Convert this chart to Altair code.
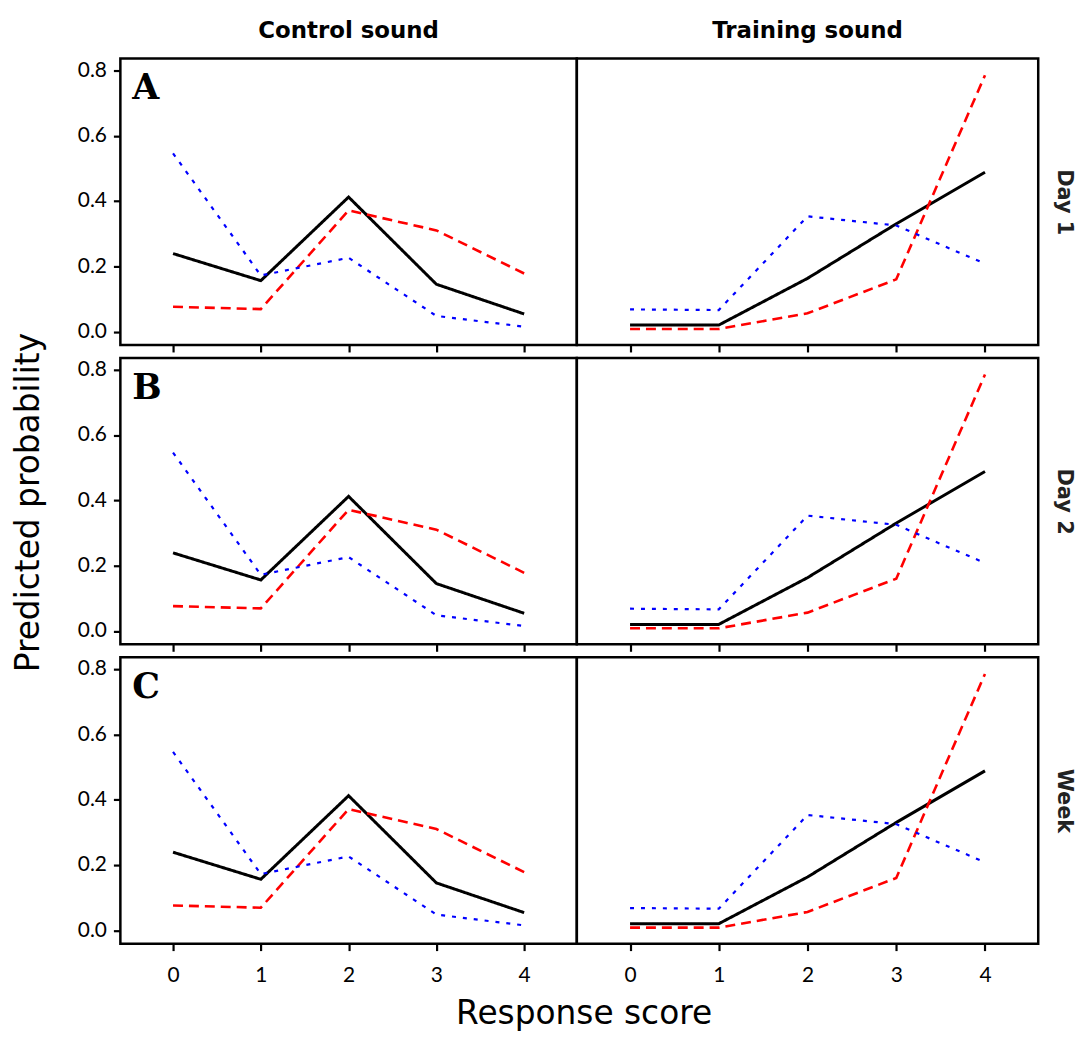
import altair as alt
import pandas as pd

scores = [0, 1, 2, 3, 4]
control_solid = [0.239, 0.156, 0.412, 0.145, 0.054]
control_dashed = [0.076, 0.069, 0.371, 0.310, 0.178]
control_dotted = [0.546, 0.172, 0.226, 0.048, 0.015]
training_solid = [0.020, 0.020, 0.163, 0.330, 0.488]
training_dashed = [0.008, 0.008, 0.056, 0.160, 0.785]
training_dotted = [0.068, 0.066, 0.353, 0.325, 0.208]
sounds = ["Control sound", "Training sound"]
periods = ["Day 1", "Day 2", "Week"]
letters = ["A", "B", "C"]
y_ticks = [0.0, 0.2, 0.4, 0.6, 0.8]
series = ["solid", "dashed", "dotted"]

values = {
    "Control sound": [control_solid, control_dashed, control_dotted],
    "Training sound": [training_solid, training_dashed, training_dotted],
}

TICK_FONT = "Lato"
TITLE_FONT = "DejaVu Sans"
WIDTHS = [459, 464]
H = 288
XDOM = [-0.6, 4.6]
YDOM = [-0.041, 0.836]

color_scale = alt.Scale(domain=series, range=["black", "#ff0000", "#0000ff"])
dash_scale = alt.Scale(domain=series, range=[[1, 0], [10, 6], [4, 7]])
width_scale = alt.Scale(domain=series, range=[3.0, 2.2, 4.0])


def panel(ri, ci):
    sound = sounds[ci]
    rows = []
    for name, vals in zip(series, values[sound]):
        for s, v in zip(scores, vals):
            rows.append({"series": name, "score": s, "prob": v})
    df = pd.DataFrame(rows)
    xaxis = alt.Axis(values=scores, labels=(ri == 2), ticks=True, tickSize=7, tickWidth=2.2,
                     tickColor="black", domain=False, grid=False, title=None,
                     labelFont=TICK_FONT, labelFontSize=21, labelColor="black",
                     labelPadding=14)
    if ci == 0:
        yaxis = alt.Axis(values=y_ticks, format=".1f", tickSize=7, tickWidth=2.2, tickColor="black",
                         domain=False, grid=False, labelFont=TICK_FONT, labelFontSize=21,
                         labelColor="black", labelPadding=7, title=None)
    else:
        yaxis = alt.Axis(orient="right", labels=False, ticks=False, domain=False, grid=False,
                         title=periods[ri], titleFont=TITLE_FONT, titleFontSize=21,
                         titleFontWeight="bold", titleColor="#222", titlePadding=15)
    lines = alt.Chart(df).mark_line().encode(
        x=alt.X("score:Q", scale=alt.Scale(domain=XDOM, nice=False, zero=False), axis=xaxis),
        y=alt.Y("prob:Q", scale=alt.Scale(domain=YDOM, nice=False, zero=False), axis=yaxis),
        color=alt.Color("series:N", scale=color_scale, legend=None),
        strokeDash=alt.StrokeDash("series:N", scale=dash_scale, legend=None),
        strokeWidth=alt.StrokeWidth("series:N", scale=width_scale, legend=None),
        detail="series:N",
    )
    layers = [lines]
    if ci == 0:
        lab = pd.DataFrame({"t": [letters[ri]]})
        layers.append(
            alt.Chart(lab).mark_text(font="DejaVu Serif", fontSize=35, fontWeight="bold",
                                     align="left", baseline="alphabetic", color="black").encode(
                text="t:N", x=alt.value(12), y=alt.value(41))
        )
    ch = alt.layer(*layers).properties(width=WIDTHS[ci], height=H)
    if ri == 0:
        ch = ch.properties(title=alt.TitleParams(sound, font=TITLE_FONT, fontSize=23,
                                                 fontWeight="bold", color="black", anchor="middle",
                                                 offset=16))
    return ch


rows = [alt.hconcat(panel(r, 0), panel(r, 1), spacing=0, bounds="flush") for r in range(3)]
inner = alt.vconcat(*rows, spacing=1).properties(
    title=alt.TitleParams("Predicted probability", orient="left", anchor="middle",
                          font=TITLE_FONT, fontSize=33, fontWeight="normal",
                          color="black", offset=30)
)
chart = alt.vconcat(inner).properties(
    title=alt.TitleParams("Response score", orient="bottom", anchor="middle",
                          font=TITLE_FONT, fontSize=33, fontWeight="normal",
                          color="black", offset=12, dx=40),
    padding={"left": 5, "top": 7, "right": 2, "bottom": 0},
).configure_view(stroke="black", strokeWidth=2.5)

chart.save("out.html", embed_options={"renderer": "svg", "actions": False})
